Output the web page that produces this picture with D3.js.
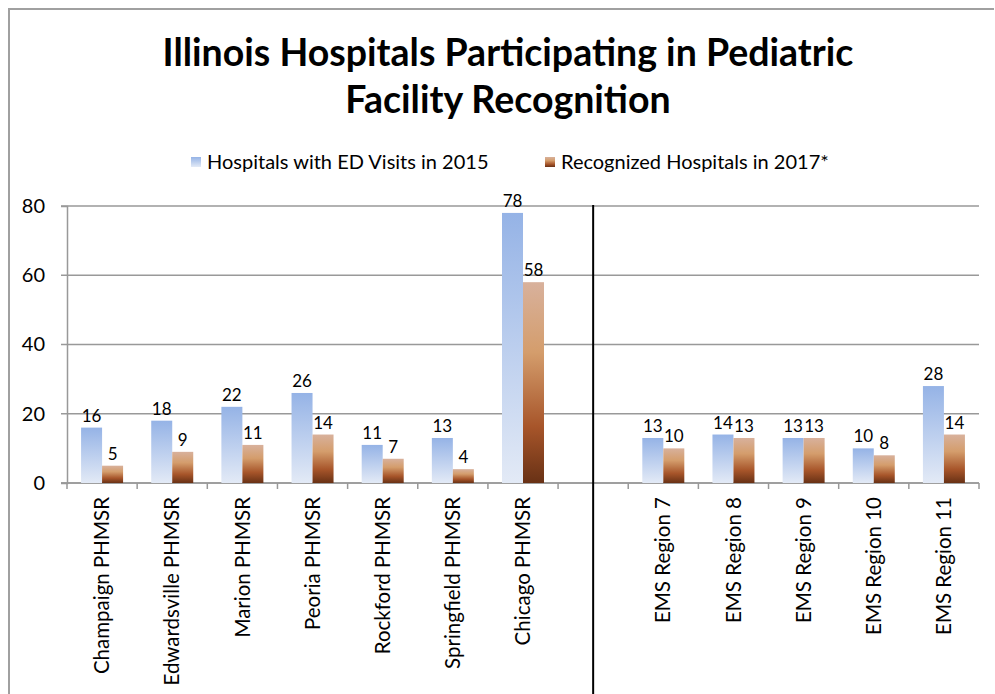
<!DOCTYPE html>
<html>
<head>
<meta charset="utf-8">
<script src="https://cdn.jsdelivr.net/npm/d3@7"></script>
<style>
  html, body { margin: 0; padding: 0; background: #fff; }
  svg { display: block; font-family: Lato, 'Open Sans', sans-serif; }
</style>
</head>
<body>
<div id="chart"></div>
<script>
// values
const phmsrNames = ['Champaign PHMSR', 'Edwardsville PHMSR', 'Marion PHMSR', 'Peoria PHMSR',
  'Rockford PHMSR', 'Springfield PHMSR', 'Chicago PHMSR']
const emsNames = ['EMS Region 7', 'EMS Region 8', 'EMS Region 9', 'EMS Region 10', 'EMS Region 11']
const edVisits2015 = [16, 18, 22, 26, 11, 13, 78, 13, 14, 13, 10, 28]
const recognized2017 = [5, 9, 11, 14, 7, 4, 58, 10, 13, 13, 8, 14]
const seriesNames = ['Hospitals with ED Visits in 2015', 'Recognized Hospitals in 2017*']
const yTicks = [0, 20, 40, 60, 80]

const GAP = '__gap__'
const categories = phmsrNames.concat(emsNames)
const rows = categories.map((name, i) => ({ name, values: [edVisits2015[i], recognized2017[i]] }))

const width = 995
const height = 694
const plot = { left: 67, right: 979, top: 206, bottom: 483 }

const svg = d3.select('#chart').append('svg')
  .attr('width', width)
  .attr('height', height)

const defs = svg.append('defs')

const blueGrad = defs.append('linearGradient')
  .attr('id', 'grad-blue')
  .attr('x1', 0).attr('y1', 0).attr('x2', 0).attr('y2', 1)
blueGrad.append('stop').attr('offset', '0%').attr('stop-color', '#95b3e6')
blueGrad.append('stop').attr('offset', '100%').attr('stop-color', '#e3eaf6')

const brownGrad = defs.append('linearGradient')
  .attr('id', 'grad-brown')
  .attr('x1', 0).attr('y1', 0).attr('x2', 0).attr('y2', 1)
brownGrad.append('stop').attr('offset', '0%').attr('stop-color', '#d8b19c')
brownGrad.append('stop').attr('offset', '35%').attr('stop-color', '#d49d6c')
brownGrad.append('stop').attr('offset', '72%').attr('stop-color', '#a7552a')
brownGrad.append('stop').attr('offset', '100%').attr('stop-color', '#683115')

const fills = ['url(#grad-blue)', 'url(#grad-brown)']

// outer chart border
svg.append('path')
  .attr('d', `M9,${height} V9 H${width - 1}`)
  .attr('fill', 'none')
  .attr('stroke', '#a0a0a0')
  .attr('stroke-width', 2)

// title
const title = svg.append('text')
  .attr('text-anchor', 'middle')
  .attr('font-weight', 700)
  .attr('font-size', 37.5)
  .attr('fill', '#000')
title.append('tspan').attr('x', 508).attr('y', 66).text('Illinois Hospitals Participating in Pediatric')
title.append('tspan').attr('x', 508).attr('y', 113).text('Facility Recognition')

// legend
const legendPos = [191, 545]
const legend = svg.append('g')
  .selectAll('g')
  .data(seriesNames)
  .join('g')
  .attr('transform', (d, i) => `translate(${legendPos[i]}, 162)`)
legend.append('rect')
  .attr('x', 0).attr('y', -5)
  .attr('width', 10).attr('height', 10)
  .attr('fill', (d, i) => fills[i])
legend.append('text')
  .attr('x', 16)
  .attr('y', 0)
  .attr('dy', '0.35em')
  .attr('font-size', 20)
  .attr('fill', '#000')
  .text(d => d)

// scales
const x = d3.scaleBand()
  .domain(phmsrNames.concat([GAP], emsNames))
  .range([plot.left, plot.right])
  .paddingInner(0)
  .paddingOuter(0)

const inner = d3.scaleBand()
  .domain([0, 1])
  .range([0, 42])

const y = d3.scaleLinear()
  .domain([0, 80])
  .range([plot.bottom, plot.top])

// gridlines
svg.append('g')
  .selectAll('line')
  .data(yTicks)
  .join('line')
  .attr('x1', plot.left - 6)
  .attr('x2', plot.right)
  .attr('y1', d => y(d))
  .attr('y2', d => y(d))
  .attr('stroke', '#999')
  .attr('stroke-width', 1.5)

// y axis
const yAxis = svg.append('g')
  .attr('transform', `translate(${plot.left},0)`)
  .call(d3.axisLeft(y).tickValues(yTicks).tickSize(6).tickPadding(16))
yAxis.select('.domain').attr('stroke', '#999').attr('stroke-width', 1.5)
yAxis.selectAll('.tick line').remove()
yAxis.selectAll('.tick text')
  .attr('font-family', 'Lato, sans-serif')
  .attr('font-size', 20)
  .attr('fill', '#000')

// x axis: tick marks on band boundaries
const boundaries = x.domain().map(d => x(d)).concat([plot.right])
svg.append('g')
  .selectAll('line')
  .data(boundaries)
  .join('line')
  .attr('x1', d => d)
  .attr('x2', d => d)
  .attr('y1', plot.bottom)
  .attr('y2', plot.bottom + 6)
  .attr('stroke', '#999')
  .attr('stroke-width', 1.5)

svg.append('line')
  .attr('x1', plot.left - 6)
  .attr('x2', plot.right)
  .attr('y1', plot.bottom)
  .attr('y2', plot.bottom)
  .attr('stroke', '#999')
  .attr('stroke-width', 1.5)

// bars
const groups = svg.append('g')
  .selectAll('g')
  .data(rows)
  .join('g')
  .attr('transform', d => `translate(${x(d.name) + x.bandwidth() / 2 - 21},0)`)

groups.selectAll('rect')
  .data(d => d.values)
  .join('rect')
  .attr('x', (d, i) => inner(i))
  .attr('width', inner.bandwidth())
  .attr('y', d => y(d))
  .attr('height', d => y(0) - y(d))
  .attr('fill', (d, i) => fills[i])

groups.selectAll('text')
  .data(d => d.values)
  .join('text')
  .attr('x', (d, i) => inner(i) + inner.bandwidth() / 2)
  .attr('y', d => y(d) - 6)
  .attr('text-anchor', 'middle')
  .attr('font-size', 17)
  .attr('fill', '#000')
  .text(d => d)

// category labels
svg.append('g')
  .selectAll('text')
  .data(categories)
  .join('text')
  .attr('transform', d => `translate(${x(d) + x.bandwidth() / 2},497) rotate(-90)`)
  .attr('text-anchor', 'end')
  .attr('dy', '0.35em')
  .attr('font-size', 20.5)
  .attr('fill', '#000')
  .text(d => d)

// divider between PHMSR and EMS regions
svg.append('line')
  .attr('x1', x(GAP) + x.bandwidth() / 2)
  .attr('x2', x(GAP) + x.bandwidth() / 2)
  .attr('y1', plot.top - 1)
  .attr('y2', height)
  .attr('stroke', '#000')
  .attr('stroke-width', 2)
</script>
</body>
</html>
